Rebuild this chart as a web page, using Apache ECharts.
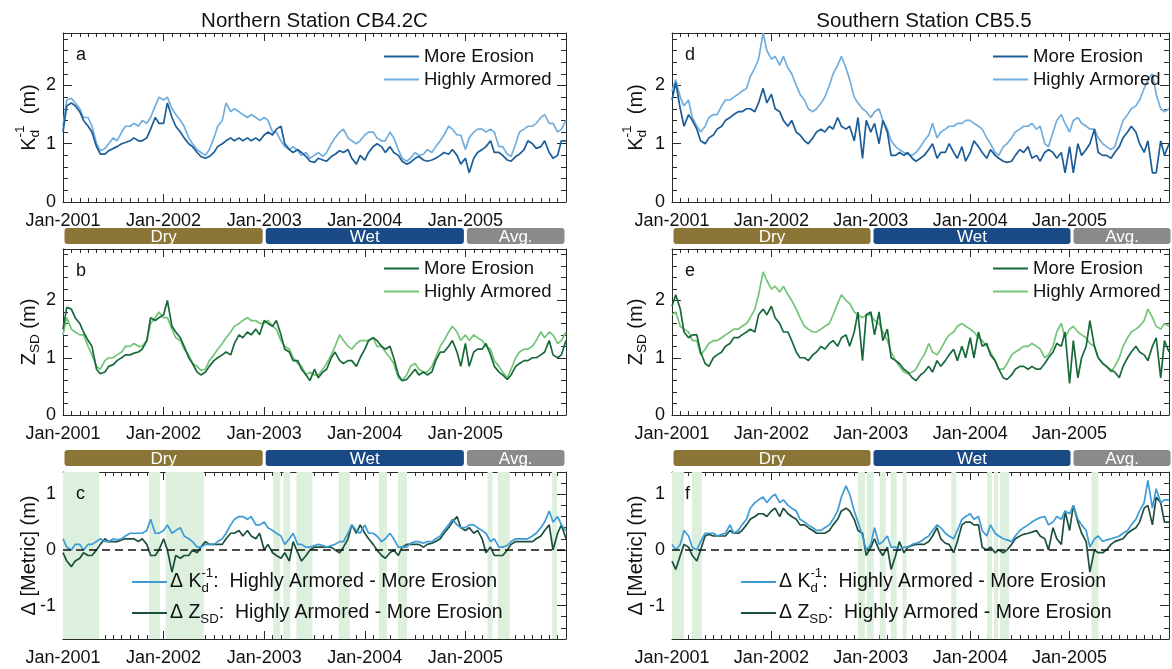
<!DOCTYPE html>
<html>
<head>
<meta charset="utf-8">
<script src="https://cdn.jsdelivr.net/npm/echarts@6/dist/echarts.min.js"></script>
<style>
html, body { margin: 0; padding: 0; background: #fff; }
#main { width: 1172px; height: 669px; }
</style>
</head>
<body>
<div id="main"></div>
<script>
var FONT = "'Liberation Sans', Arial, Helvetica, sans-serif";
var TXT = '#111';
var AX = '#2b2b2b';

// sample dates: 1st and 15th of every month, Jan-2001 .. Jan-2006 (decimal years)
var dates = [];
for (var yr = 2001; yr <= 2005; yr++) {
    for (var mo = 0; mo < 12; mo++) {
        dates.push(yr + mo / 12);
        dates.push(yr + (mo + 0.45) / 12);
    }
}
dates.push(2006);

var yearTicks = [2001, 2002, 2003, 2004, 2005];
var metricTicks = [0, 1, 2];
var deltaTicks = [-1, 0, 1];

// ---- Northern station CB4.2C ----
// Kd^-1 (m)
var northKdErosion = [
    1.2,1.65,1.7,1.65,1.55,1.4,1.3,1.2,0.95,0.82,0.82,0.88,0.92,0.95,1.0,1.02,1.05,1.1,1.05,1.05,1.1,1.25,1.45,1.35,
    1.35,1.7,1.45,1.3,1.2,1.1,1.0,0.95,0.85,0.78,0.75,0.78,0.85,0.95,1.0,1.05,1.1,1.05,1.1,1.05,1.1,1.05,1.1,1.05,
    1.15,1.2,1.15,1.25,1.3,1.0,0.9,0.85,0.9,0.85,0.78,0.7,0.68,0.75,0.72,0.7,0.78,0.82,0.88,0.85,0.9,0.75,0.65,0.8,
    0.72,0.85,0.95,1.0,0.95,0.85,0.95,0.85,0.8,0.7,0.65,0.68,0.75,0.78,0.72,0.7,0.72,0.75,0.8,0.85,0.82,0.9,0.8,0.65,
    0.75,0.5,0.75,0.85,0.9,0.95,1.05,0.85,0.85,0.8,0.72,0.7,0.78,0.82,0.9,1.05,1.0,0.92,0.95,1.05,0.85,0.75,0.8,1.05,
    1.05];
var northKdArmored = [
    1.3,1.75,1.78,1.7,1.6,1.45,1.45,1.3,1.0,0.88,0.92,1.0,1.1,1.05,1.2,1.3,1.3,1.35,1.3,1.4,1.35,1.45,1.65,1.8,
    1.75,1.8,1.6,1.5,1.4,1.3,1.1,1.0,0.9,0.85,0.8,0.9,1.1,1.3,1.4,1.7,1.55,1.6,1.55,1.5,1.45,1.5,1.45,1.4,
    1.45,1.4,1.2,1.2,1.05,0.95,0.9,0.95,0.88,0.8,0.85,0.75,0.8,0.85,0.78,0.85,1.0,1.1,1.2,1.25,1.1,1.05,1.0,1.05,
    1.15,1.2,1.2,1.1,1.05,1.05,1.2,1.1,0.9,0.75,0.7,0.75,0.85,0.8,0.82,0.9,0.85,0.95,1.05,1.15,1.3,1.25,1.15,1.15,
    0.9,1.1,1.2,1.25,1.25,1.2,1.25,1.2,0.95,0.95,0.82,0.78,1.0,1.2,1.25,1.3,1.3,1.35,1.45,1.5,1.35,1.35,1.2,1.25,
    1.4];
// Z_SD (m)
var northZsdErosion = [
    1.5,1.88,1.85,1.7,1.6,1.45,1.3,1.2,0.8,0.72,0.75,0.85,0.88,0.95,1.0,1.05,1.05,1.08,1.1,1.15,1.3,1.7,1.65,1.7,
    1.75,2.0,1.55,1.45,1.35,1.2,1.0,0.9,0.75,0.7,0.75,0.85,0.95,1.0,1.05,1.1,1.05,1.25,1.4,1.35,1.45,1.4,1.5,1.4,
    1.65,1.6,1.55,1.65,1.4,1.15,1.1,0.95,0.95,0.8,0.7,0.6,0.8,0.65,0.75,0.8,1.0,1.1,0.95,0.9,0.95,0.95,0.85,1.0,
    1.15,1.3,1.35,1.3,1.2,1.15,1.2,1.0,0.7,0.6,0.62,0.7,0.8,0.7,0.75,0.7,0.75,0.95,1.1,1.1,1.2,1.3,1.1,0.85,
    1.25,0.85,1.1,1.15,1.15,1.25,1.05,0.85,0.75,0.7,0.62,0.7,0.85,0.9,0.95,0.95,1.0,1.0,1.05,1.1,1.3,1.05,1.0,1.05,
    1.3];
var northZsdArmored = [
    1.4,1.7,1.5,1.45,1.4,1.4,1.2,1.05,0.85,0.8,0.95,1.0,1.0,1.05,1.1,1.2,1.2,1.25,1.2,1.2,1.3,1.6,1.7,1.8,
    1.7,1.7,1.5,1.35,1.3,1.15,1.05,0.9,0.85,0.78,0.8,0.95,1.05,1.15,1.25,1.35,1.45,1.55,1.6,1.65,1.7,1.65,1.65,1.6,
    1.6,1.65,1.55,1.5,1.3,1.2,1.15,1.0,0.9,0.85,0.7,0.75,0.7,0.7,0.8,0.9,1.05,1.2,1.4,1.3,1.2,1.15,1.25,1.3,
    1.3,1.3,1.35,1.2,1.2,1.1,1.0,0.9,0.65,0.6,0.7,0.85,0.9,0.8,0.75,0.75,0.85,1.0,1.2,1.3,1.45,1.55,1.45,1.3,
    1.4,1.3,1.4,1.35,1.3,1.2,1.15,0.95,0.85,0.75,0.65,0.8,1.0,1.1,1.15,1.15,1.2,1.3,1.45,1.35,1.45,1.4,1.25,1.3,
    1.45];
// differences, Highly Armored - More Erosion
var northDeltaKd = [
    0.2,0.05,0.0,0.1,0.1,0.0,0.1,0.1,0.15,0.2,0.15,0.15,0.2,0.18,0.2,0.25,0.3,0.3,0.3,0.3,0.35,0.55,0.3,0.3,
    0.35,0.45,0.3,0.35,0.4,0.25,0.2,0.15,0.05,0.05,0.1,0.1,0.1,0.15,0.2,0.3,0.45,0.55,0.6,0.6,0.55,0.6,0.45,0.45,
    0.5,0.4,0.35,0.3,0.25,0.1,0.2,0.3,0.1,0.1,0.05,0.05,0.08,0.1,0.08,0.05,0.08,0.1,0.15,0.15,0.3,0.45,0.35,0.3,
    0.45,0.3,0.3,0.25,0.15,0.2,0.3,0.2,0.05,0.05,0.05,0.12,0.15,0.15,0.12,0.15,0.15,0.2,0.25,0.35,0.45,0.55,0.45,0.4,
    0.4,0.45,0.45,0.4,0.35,0.3,0.15,0.2,0.05,0.05,0.08,0.15,0.2,0.2,0.2,0.2,0.25,0.3,0.4,0.5,0.7,0.5,0.6,0.45,
    0.35];
var northDeltaZsd = [
    -0.05,-0.2,-0.3,-0.2,-0.15,-0.05,-0.1,-0.1,0.0,0.1,0.2,0.15,0.15,0.15,0.18,0.2,0.2,0.2,0.15,0.2,0.1,-0.1,-0.1,0.0,
    0.2,0.0,-0.4,-0.1,-0.15,-0.1,-0.1,0.0,-0.05,0.05,0.15,0.1,0.1,0.1,0.1,0.2,0.3,0.3,0.35,0.25,0.35,0.25,0.2,0.3,
    0.0,0.1,-0.05,-0.1,-0.15,-0.05,-0.2,0.15,-0.05,-0.2,-0.1,0.0,0.05,0.05,0.05,0.05,0.05,0.0,-0.05,0.05,0.2,0.45,0.3,0.45,
    0.3,0.2,0.1,0.0,-0.1,-0.15,-0.05,0.0,-0.1,0.05,0.1,0.1,0.1,0.1,0.05,0.1,0.12,0.15,0.2,0.3,0.4,0.5,0.6,0.4,
    0.35,0.4,0.3,0.35,0.2,-0.05,0.05,-0.1,-0.1,-0.1,0.0,0.1,0.15,0.15,0.15,0.15,0.15,0.2,0.25,0.35,0.45,0.0,0.3,0.45,
    0.2];

// ---- Southern station CB5.5 ----
var southKdErosion = [
    1.75,2.05,1.6,1.3,1.5,1.4,1.25,1.05,1.0,1.1,1.15,1.25,1.3,1.4,1.45,1.5,1.55,1.55,1.6,1.6,1.55,1.7,1.95,1.7,
    1.85,1.6,1.55,1.4,1.3,1.4,1.2,1.15,1.05,1.0,1.1,1.2,1.25,1.2,1.3,1.25,1.45,1.3,1.25,1.3,1.05,1.45,0.75,1.4,
    1.2,1.35,1.0,1.4,1.2,0.8,0.8,0.85,0.8,0.85,0.75,0.7,0.75,0.8,0.9,1.0,0.75,0.85,0.85,1.0,0.85,0.75,0.95,0.7,
    0.85,1.05,0.95,0.85,0.75,0.9,0.8,0.75,0.7,0.68,0.7,0.8,0.9,0.85,0.95,0.75,0.8,0.7,0.85,0.9,0.85,0.75,0.85,0.5,
    0.95,0.5,1.0,0.8,0.9,1.0,1.25,0.85,0.8,0.8,0.75,0.85,0.95,1.1,1.2,1.3,1.2,1.0,0.85,1.05,0.5,0.5,1.05,0.8,
    1.0];
var southKdArmored = [
    1.9,2.1,1.8,1.65,1.75,1.45,1.3,1.2,1.3,1.45,1.5,1.5,1.65,1.75,1.75,1.8,1.85,1.9,1.95,2.15,2.3,2.45,2.9,2.6,
    2.45,2.5,2.35,2.5,2.3,2.2,2.0,1.85,1.75,1.6,1.55,1.6,1.7,1.8,2.0,2.2,2.35,2.5,2.3,2.1,1.8,1.7,1.6,1.55,
    1.45,1.55,1.6,1.4,1.25,1.05,0.95,0.9,0.85,0.82,0.8,0.85,0.95,1.05,1.15,1.35,1.1,1.2,1.25,1.3,1.3,1.35,1.35,1.4,
    1.4,1.35,1.3,1.25,1.1,1.0,0.85,0.8,0.95,1.0,1.1,1.2,1.25,1.3,1.3,1.35,1.25,1.3,1.0,0.95,1.2,1.4,1.5,1.35,
    1.2,1.4,1.45,1.35,1.3,1.25,1.25,1.1,1.0,0.95,0.9,0.95,1.2,1.4,1.5,1.6,1.65,1.75,1.95,2.1,2.2,1.85,1.6,1.55,
    1.6];
var southZsdErosion = [
    1.9,2.1,1.85,1.45,1.35,1.4,1.4,1.1,0.9,0.85,1.0,1.05,1.1,1.2,1.25,1.35,1.35,1.4,1.45,1.5,1.45,1.75,1.85,1.75,
    1.9,1.7,1.6,1.45,1.45,1.3,1.1,1.0,1.0,0.95,1.05,1.1,1.2,1.15,1.25,1.3,1.2,1.35,1.4,1.2,1.45,1.8,0.95,1.75,
    1.8,1.4,1.8,1.3,1.5,1.0,0.95,0.9,0.8,0.75,0.65,0.6,0.7,0.75,0.85,0.75,0.95,0.85,0.95,1.05,1.15,0.95,1.2,1.0,
    1.35,1.0,1.45,1.2,1.25,1.05,0.95,0.8,0.65,0.62,0.7,0.8,0.85,0.85,0.8,0.85,0.8,0.8,0.9,1.0,1.1,1.25,1.2,1.45,
    0.55,1.3,0.65,1.0,1.2,1.65,1.2,1.0,0.9,0.85,0.78,0.75,0.65,0.85,1.0,1.1,1.2,1.1,1.05,0.95,1.2,1.35,0.65,1.3,
    1.1];
var southZsdArmored = [
    1.75,1.8,1.55,1.5,1.45,1.3,1.3,1.05,1.15,1.25,1.3,1.3,1.35,1.4,1.45,1.5,1.5,1.55,1.6,1.7,1.85,2.1,2.5,2.35,
    2.2,2.25,2.15,2.25,2.1,2.0,1.85,1.7,1.55,1.5,1.45,1.45,1.5,1.55,1.6,1.75,1.95,2.1,2.0,1.95,1.8,1.75,1.7,1.75,
    1.75,1.65,1.6,1.45,1.3,1.1,0.95,0.85,0.75,0.72,0.75,0.8,0.95,1.05,1.25,1.1,1.05,1.15,1.3,1.4,1.45,1.55,1.6,1.55,
    1.5,1.45,1.35,1.3,1.2,1.1,0.95,0.8,0.8,0.9,1.05,1.1,1.15,1.2,1.2,1.25,1.2,1.15,1.0,1.05,1.2,1.45,1.6,1.35,
    1.5,1.55,1.45,1.4,1.35,1.25,1.2,1.0,0.9,0.85,0.75,0.85,1.0,1.2,1.35,1.45,1.5,1.55,1.65,1.85,1.7,1.55,1.5,1.6,
    1.55];
var southDeltaKd = [
    0.1,0.0,0.1,0.35,0.25,0.05,0.0,0.15,0.3,0.3,0.3,0.25,0.28,0.3,0.45,0.3,0.35,0.45,0.55,0.75,0.85,0.9,0.95,0.85,
    0.95,1.0,0.85,0.9,0.8,0.75,0.7,0.55,0.5,0.45,0.4,0.35,0.35,0.4,0.45,0.55,0.7,0.95,1.15,1.0,0.7,0.5,0.25,0.0,
    0.1,0.4,0.1,0.15,0.25,0.05,0.05,0.0,0.05,0.05,0.1,0.12,0.15,0.2,0.25,0.35,0.45,0.4,0.3,0.25,0.2,0.35,0.55,0.6,
    0.65,0.55,0.6,0.35,0.25,0.45,0.3,0.25,0.2,0.18,0.15,0.25,0.35,0.4,0.45,0.5,0.55,0.58,0.6,0.45,0.5,0.6,0.55,0.7,
    0.65,0.8,0.55,0.45,0.35,0.05,0.2,0.25,0.15,0.18,0.2,0.22,0.25,0.3,0.35,0.45,0.55,0.7,0.85,1.25,0.75,1.1,0.85,0.9,
    0.9];
var southDeltaZsd = [
    -0.2,-0.35,-0.1,0.1,0.05,-0.1,-0.2,0.0,0.25,0.28,0.25,0.25,0.25,0.25,0.35,0.3,0.3,0.35,0.45,0.55,0.6,0.65,0.65,0.6,
    0.7,0.75,0.6,0.75,0.65,0.6,0.55,0.45,0.45,0.4,0.35,0.3,0.3,0.3,0.35,0.45,0.55,0.7,0.75,0.7,0.55,0.35,0.3,-0.1,
    0.05,0.2,0.0,-0.1,0.05,-0.35,-0.1,0.15,-0.05,0.05,0.08,0.1,0.1,0.1,0.15,0.25,0.4,0.2,0.12,0.1,-0.05,0.15,0.45,0.5,
    0.5,0.45,0.45,0.05,0.0,0.05,-0.05,0.0,-0.05,0.0,0.1,0.2,0.25,0.28,0.3,0.32,0.35,0.25,0.2,0.0,0.4,0.2,0.1,0.7,
    0.35,0.8,0.5,0.3,0.15,-0.4,0.0,-0.05,-0.05,0.0,0.1,0.15,0.18,0.2,0.3,0.35,0.4,0.5,0.75,0.8,0.45,0.95,0.85,0.5,
    0.5];

// periods in which the two runs disagree in sign (shaded), decimal years
var northBandStart = [2001.00, 2001.855, 2002.02, 2003.09, 2003.19, 2003.32, 2003.74, 2004.14, 2004.33, 2005.22, 2005.32, 2005.86];
var northBandEnd   = [2001.36, 2001.965, 2002.40, 2003.16, 2003.26, 2003.48, 2003.85, 2004.22, 2004.42, 2005.27, 2005.44, 2005.91];
var southBandStart = [2001.00, 2001.20, 2002.87, 2002.96, 2003.09, 2003.20, 2003.32, 2003.81, 2004.17, 2004.24, 2004.30, 2005.22];
var southBandEnd   = [2001.12, 2001.30, 2002.94, 2003.03, 2003.15, 2003.26, 2003.36, 2003.86, 2004.22, 2004.28, 2004.39, 2005.29];

// hydrological year types
var periodNames = ['Dry', 'Wet', 'Avg.'];
var periodStart = [2001, 2003, 2005];
var periodEnd = [2003, 2005, 2006];
var periodColors = ['#8b7536', '#1a4a86', '#8a8a8a'];

// ---- layout ----
var colLeft = [63, 672], colWidth = [503, 504];
var rowTop = [33, 249, 472], rowHeight = [169, 166, 167];
var barTop = [228, 450], barHeight = 16;

var C = {
    kdDark: '#1a5d99', kdLight: '#72aedd',
    zDark: '#17693a', zLight: '#74c577',
    dKd: '#3e9bd6', dZ: '#1c4f3d', band: '#dcf0dd'
};

var panels = [
    {letter: 'a', col: 0, row: 0, min: 0, max: 2.9, ticks: metricTicks, s: [['aEro', northKdErosion, C.kdDark], ['aArm', northKdArmored, C.kdLight]]},
    {letter: 'b', col: 0, row: 1, min: 0, max: 2.9, ticks: metricTicks, s: [['bEro', northZsdErosion, C.zDark], ['bArm', northZsdArmored, C.zLight]]},
    {letter: 'c', col: 0, row: 2, min: -1.6, max: 1.4, ticks: deltaTicks, s: [['cKd', northDeltaKd, C.dKd], ['cZ', northDeltaZsd, C.dZ]], bands: [northBandStart, northBandEnd]},
    {letter: 'd', col: 1, row: 0, min: 0, max: 2.9, ticks: metricTicks, s: [['dEro', southKdErosion, C.kdDark], ['dArm', southKdArmored, C.kdLight]]},
    {letter: 'e', col: 1, row: 1, min: 0, max: 2.9, ticks: metricTicks, s: [['eEro', southZsdErosion, C.zDark], ['eArm', southZsdArmored, C.zLight]]},
    {letter: 'f', col: 1, row: 2, min: -1.6, max: 1.4, ticks: deltaTicks, s: [['fKd', southDeltaKd, C.dKd], ['fZ', southDeltaZsd, C.dZ]], bands: [southBandStart, southBandEnd]}
];
var legendLabel = {
    aEro: 'More Erosion', aArm: 'Highly Armored', bEro: 'More Erosion', bArm: 'Highly Armored',
    dEro: 'More Erosion', dArm: 'Highly Armored', eEro: 'More Erosion', eArm: 'Highly Armored'
};

var grids = [], xAxes = [], yAxes = [], series = [], graphics = [];

function xAxisDef(gi, pos, labels) {
    return {
        gridIndex: gi, type: 'value', min: 2001, max: 2006, interval: 1, position: pos,
        axisLine: {show: true, onZero: false, lineStyle: {color: AX, width: 1}},
        axisTick: {show: true, inside: true, length: 8, lineStyle: {color: AX}},
        minorTick: {show: true, splitNumber: 12, length: 4, lineStyle: {color: AX}},
        splitLine: {show: false},
        axisLabel: {
            show: labels, margin: 10, fontSize: 18, color: TXT, fontFamily: FONT,
            formatter: function (v) { return yearTicks.indexOf(v) >= 0 ? 'Jan-' + v : ''; }
        }
    };
}
// fine ticks every 0.2
function yMinorDef(gi, pos, min, max) {
    return {
        gridIndex: gi, type: 'value', min: min, max: max, interval: 0.2, position: pos,
        axisLine: {show: true, onZero: false, lineStyle: {color: AX, width: 1}},
        axisTick: {show: true, inside: true, length: 5, lineStyle: {color: AX}},
        splitLine: {show: false},
        axisLabel: {show: false}
    };
}
// integer ticks, longer, with labels
function yMajorDef(gi, pos, labels, min, max, ticks) {
    return {
        gridIndex: gi, type: 'value', min: min, max: max, interval: 0.2, position: pos,
        axisLine: {show: false, onZero: false},
        axisTick: {show: true, inside: true, length: 9, customValues: ticks, lineStyle: {color: AX}},
        splitLine: {show: false},
        axisLabel: {
            show: labels, margin: 7, fontSize: 18, color: TXT, fontFamily: FONT, customValues: ticks,
            formatter: function (v) { return Math.abs(v - Math.round(v)) < 1e-6 ? String(Math.round(v)) : ''; }
        }
    };
}

panels.forEach(function (p, i) {
    grids.push({left: colLeft[p.col], top: rowTop[p.row], width: colWidth[p.col], height: rowHeight[p.row]});
    xAxes.push(xAxisDef(i, 'bottom', true), xAxisDef(i, 'top', false));
    yAxes.push(
        yMinorDef(i, 'left', p.min, p.max),
        yMajorDef(i, 'left', true, p.min, p.max, p.ticks),
        yMinorDef(i, 'right', p.min, p.max),
        yMajorDef(i, 'right', false, p.min, p.max, p.ticks)
    );
    p.s.forEach(function (s, k) {
        var ser = {
            type: 'line', name: s[0], xAxisIndex: 2 * i, yAxisIndex: 4 * i + 1,
            data: dates.map(function (d, j) { return [d, s[1][j]]; }),
            showSymbol: false, symbol: 'none', animation: false,
            lineStyle: {width: 1.7, color: s[2]}, itemStyle: {color: s[2]}, z: 3 + (1 - k)
        };
        if (p.bands && k === 0) {
            ser.markArea = {
                silent: true, itemStyle: {color: C.band},
                data: p.bands[0].map(function (b, j) { return [{xAxis: b}, {xAxis: p.bands[1][j]}]; })
            };
        }
        if (p.bands && k === 1) {
            ser.markLine = {
                silent: true, symbol: ['none', 'none'], label: {show: false}, animation: false,
                lineStyle: {type: [8, 5], color: '#111', width: 1.5},
                data: [{yAxis: 0}]
            };
        }
        series.push(ser);
    });
    graphics.push({
        type: 'text', x: colLeft[p.col] + 13, y: rowTop[p.row] + 22, z: 100,
        style: {text: p.letter, fontSize: 18, fontFamily: FONT, fill: TXT, verticalAlign: 'middle'}
    });
});

// dry / wet / average bars
var barIdx = 0;
[0, 1].forEach(function (col) {
    [0, 1].forEach(function (r) {
        var gi = panels.length + barIdx;
        grids.push({left: colLeft[col], top: barTop[r], width: colWidth[col], height: barHeight});
        xAxes.push({gridIndex: gi, type: 'value', min: 2001, max: 2006, show: false});
        yAxes.push({gridIndex: gi, type: 'value', min: 0, max: 1, show: false});
        series.push({
            type: 'custom', xAxisIndex: xAxes.length - 1, yAxisIndex: yAxes.length - 1,
            data: periodNames.map(function (n, i) { return [periodStart[i], periodEnd[i], i]; }),
            renderItem: function (params, api) {
                var i = api.value(2);
                var p0 = api.coord([api.value(0), 0.5]);
                var p1 = api.coord([api.value(1), 0.5]);
                var cs = params.coordSys;
                return {
                    type: 'group',
                    children: [{
                        type: 'rect',
                        shape: {x: p0[0] + 1.5, y: cs.y, width: p1[0] - p0[0] - 3, height: cs.height, r: 3},
                        style: {fill: periodColors[i]}
                    }, {
                        type: 'text',
                        style: {
                            text: periodNames[i], x: (p0[0] + p1[0]) / 2, y: cs.y + cs.height / 2 + 1,
                            align: 'center', verticalAlign: 'middle', fill: '#fff', fontSize: 17, fontFamily: FONT
                        }
                    }]
                };
            },
            animation: false
        });
        barIdx++;
    });
});

// text with stacked sub/superscripts
var mctx = document.createElement('canvas').getContext('2d');
function tw(s, size) { mctx.font = size + 'px ' + FONT; return mctx.measureText(s).width; }
function richParts(parts, size, color) {
    var kids = [], cx = 0, small = size * 0.68;
    parts.forEach(function (p) {
        if (p.t) {
            kids.push({type: 'text', x: cx, y: 0, z: 100, style: {text: p.t, fontSize: size, fontFamily: FONT, fill: color, verticalAlign: 'middle'}});
            cx += tw(p.t, size);
        } else {
            var w = 0;
            if (p.sub) {
                kids.push({type: 'text', x: cx, y: size * 0.33, z: 100, style: {text: p.sub, fontSize: small, fontFamily: FONT, fill: color, verticalAlign: 'middle'}});
                w = Math.max(w, tw(p.sub, small));
            }
            if (p.sup) {
                kids.push({type: 'text', x: cx, y: -size * 0.42, z: 100, style: {text: p.sup, fontSize: small, fontFamily: FONT, fill: color, verticalAlign: 'middle'}});
                w = Math.max(w, tw(p.sup, small));
            }
            cx += w;
        }
    });
    return {kids: kids, width: cx};
}
function yLabel(x, y, parts) {
    var r = richParts(parts, 20, TXT);
    r.kids.forEach(function (k) { k.x -= r.width / 2; });
    graphics.push({type: 'group', x: x, y: y, rotation: Math.PI / 2, z: 100, children: r.kids});
}
var kdParts = [{t: 'K'}, {sub: 'd', sup: '-1'}, {t: '  (m)'}];
var zParts = [{t: 'Z'}, {sub: 'SD'}, {t: ' (m)'}];
var dParts = [{t: 'Δ [Metric] (m)'}];
[29, 636].forEach(function (x) {
    yLabel(x, rowTop[0] + rowHeight[0] / 2, kdParts);
    yLabel(x, rowTop[1] + rowHeight[1] / 2, zParts);
    yLabel(x, rowTop[2] + rowHeight[2] / 2, dParts);
});

// titles
graphics.push({type: 'text', x: colLeft[0] + colWidth[0] / 2, y: 21, z: 100,
    style: {text: 'Northern Station CB4.2C', fontSize: 20.5, fontFamily: FONT, fill: TXT, align: 'center', verticalAlign: 'middle'}});
graphics.push({type: 'text', x: colLeft[1] + colWidth[1] / 2, y: 21, z: 100,
    style: {text: 'Southern Station CB5.5', fontSize: 20.5, fontFamily: FONT, fill: TXT, align: 'center', verticalAlign: 'middle'}});

// legends of the difference panels
function deltaLegend(x0, y0, color, parts) {
    graphics.push({type: 'line', shape: {x1: x0, y1: y0, x2: x0 + 35, y2: y0}, style: {stroke: color, lineWidth: 1.8}, z: 100});
    var r = richParts(parts, 19.5, TXT);
    graphics.push({type: 'group', x: x0 + 38, y: y0, z: 100, children: r.kids});
}
var tail = ':  Highly Armored - More Erosion';
[132, 741].forEach(function (x0) {
    deltaLegend(x0, 582, C.dKd, [{t: 'Δ K'}, {sub: 'd', sup: '-1'}, {t: tail}]);
    deltaLegend(x0, 613, C.dZ, [{t: 'Δ Z'}, {sub: 'SD'}, {t: tail}]);
});

var bad = [northKdErosion, northKdArmored, northZsdErosion, northZsdArmored, northDeltaKd, northDeltaZsd,
    southKdErosion, southKdArmored, southZsdErosion, southZsdArmored, southDeltaKd, southDeltaZsd]
    .map(function (a, i) { return a.length !== dates.length ? i + ':' + a.length : null; })
    .filter(function (v) { return v; });
if (bad.length) {
    graphics.push({type: 'text', x: 300, y: 330, style: {text: 'LEN ' + bad.join(' ') + ' / ' + dates.length, fontSize: 20, fill: 'red'}, z: 200});
}

var legendBase = {
    orient: 'vertical', itemWidth: 35, itemHeight: 2, itemGap: 4, icon: 'rect', selectedMode: false, padding: 0,
    textStyle: {fontSize: 18.5, color: TXT, fontFamily: FONT, lineHeight: 17},
    formatter: function (n) { return legendLabel[n]; }
};
function leg(names, left, top) {
    return Object.assign({}, legendBase, {data: names, left: left, top: top});
}

var chart = echarts.init(document.getElementById('main'));
chart.setOption({
    animation: false,
    backgroundColor: '#fff',
    grid: grids,
    xAxis: xAxes,
    yAxis: yAxes,
    legend: [
        leg(['aEro', 'aArm'], 384, 47),
        leg(['bEro', 'bArm'], 384, 259),
        leg(['dEro', 'dArm'], 993, 47),
        leg(['eEro', 'eArm'], 993, 259)
    ],
    series: series,
    graphic: graphics
});
</script>
</body>
</html>
